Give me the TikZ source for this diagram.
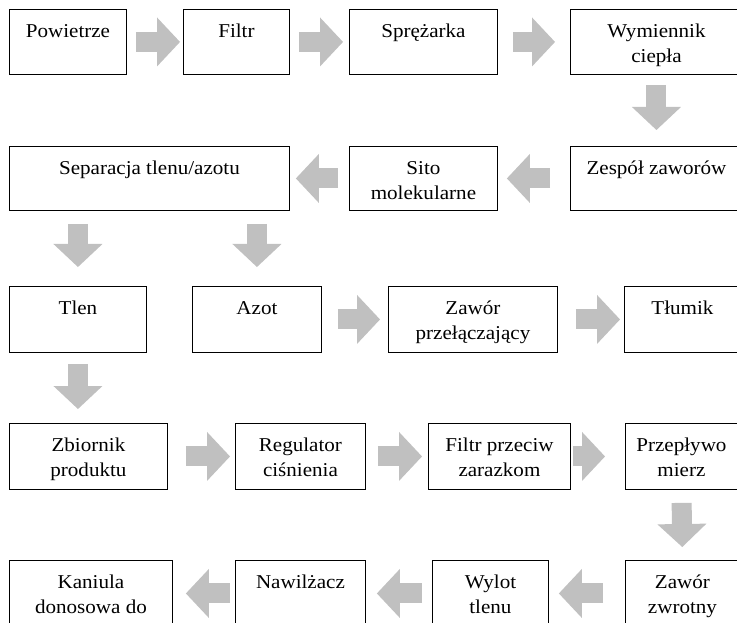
\documentclass[tikz,border=0pt]{standalone}
\usepackage{fontspec}
\setmainfont{Liberation Serif}[FakeStretch=1.075]
\usetikzlibrary{arrows.meta}
\definecolor{arrowgray}{RGB}{192,192,192}
\newcommand{\bt}[3]{\parbox[t][#2][t]{#1}{\centering\rule{0pt}{28pt}#3}}
\tikzset{
  bx/.style={draw=black, line width=0.9pt, inner sep=0pt, anchor=north west,
    font=\fontsize{19.6}{25}\selectfont},
  flow/.style={draw=arrowgray, line width=20pt,
    -{Triangle[length=23pt,width=49pt,line width=0pt]}},
}
\begin{document}
\begin{tikzpicture}[x=1pt,y=-1pt]
\useasboundingbox (0,0) rectangle (737,623);
\clip (0,0) rectangle (737,623);
\fill[white] (0,0) rectangle (737,623);
% row 1
\node[bx] (pow)   at (9,9)   {\bt{117pt}{65pt}{Powietrze}};
\node[bx] (filtr) at (183,9) {\bt{106pt}{65pt}{Filtr}};
\node[bx] (spr)   at (349,9) {\bt{148pt}{65pt}{Sprężarka}};
\node[bx] (wym)   at (570,9) {\bt{172pt}{65pt}{Wymiennik\\ciepła}};
% row 2
\node[bx] (sep)   at (9,146)   {\bt{280pt}{64pt}{Separacja tlenu/azotu}};
\node[bx] (sito)  at (349,146) {\bt{148pt}{64pt}{Sito\\molekularne}};
\node[bx] (zesp)  at (570,146) {\bt{172pt}{64pt}{Zespół zaworów}};
% row 3
\node[bx] (tlen)  at (9,286)   {\bt{137pt}{66pt}{Tlen}};
\node[bx] (azot)  at (192,286) {\bt{129pt}{66pt}{Azot}};
\node[bx] (zawp)  at (388,286) {\bt{169pt}{66pt}{Zawór\\przełączający}};
\node[bx] (tlum)  at (624,286) {\bt{116pt}{66pt}{Tłumik}};
% row 4
\node[bx] (zbior) at (9,423)   {\bt{158pt}{66pt}{Zbiornik\\produktu}};
\node[bx] (reg)   at (235,423) {\bt{130pt}{66pt}{Regulator\\ciśnienia}};
\node[bx] (filp)  at (428,423) {\bt{142pt}{66pt}{Filtr przeciw\\zarazkom}};
\node[bx] (przep) at (625,423) {\bt{112pt}{66pt}{Przepływo\\mierz}};
% row 5
\node[bx] (kan)   at (9,560)   {\bt{163pt}{66pt}{Kaniula\\donosowa do}};
\node[bx] (naw)   at (235,560) {\bt{130pt}{66pt}{Nawilżacz}};
\node[bx] (wyl)   at (432,560) {\bt{116pt}{66pt}{Wylot\\tlenu}};
\node[bx] (zawz)  at (625,560) {\bt{114pt}{66pt}{Zawór\\zwrotny}};
% arrows
\draw[flow, shorten <=9pt,  shorten >=3pt]  (pow.east) -- (filtr.west);
\draw[flow, shorten <=9pt,  shorten >=6pt]  (filtr.east) -- (spr.west);
\draw[flow, shorten <=15pt, shorten >=15pt] (spr.east) -- (wym.west);
\draw[flow, shorten <=10pt, shorten >=16pt] (wym.south) -- (zesp.north);
\draw[flow, shorten <=20pt, shorten >=9pt]  (zesp.west) -- (sito.east);
\draw[flow, shorten <=11pt, shorten >=6pt]  (sito.west) -- (sep.east);
\draw[flow, shorten <=13pt, shorten >=19pt] (tlen.north |- sep.south) -- (tlen.north);
\draw[flow, shorten <=13pt, shorten >=19pt] (azot.north |- sep.south) -- (azot.north);
\draw[flow, shorten <=16pt, shorten >=8pt]  (azot.east) -- (zawp.west);
\draw[flow, shorten <=18pt, shorten >=4pt]  (zawp.east) -- (tlum.west);
\draw[flow, shorten <=11pt, shorten >=14pt] (tlen.south) -- (tlen.south |- zbior.north);
\draw[flow, shorten <=18pt, shorten >=5pt]  (zbior.east) -- (reg.west);
\draw[flow, shorten <=12pt, shorten >=6pt]  (reg.east) -- (filp.west);
\draw[flow, shorten <=2pt,  shorten >=20pt] (filp.east) -- (przep.west);
\draw[flow, shorten <=13pt, shorten >=13pt] (przep.south) -- (zawz.north);
\draw[flow, shorten <=22pt, shorten >=10pt] (zawz.west) -- (wyl.east);
\draw[flow, shorten <=10pt, shorten >=11pt] (wyl.west) -- (naw.east);
\draw[flow, shorten <=5pt,  shorten >=13pt] (naw.west) -- (kan.east);
\end{tikzpicture}
\end{document}
